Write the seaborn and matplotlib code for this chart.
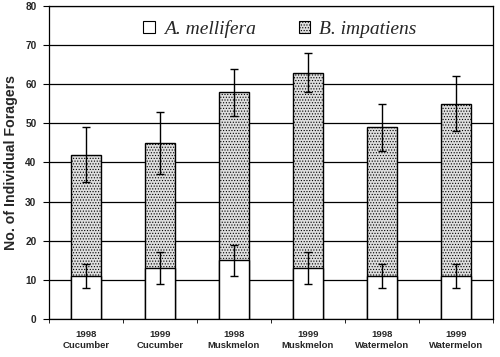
import numpy as np
import pandas as pd
import matplotlib
matplotlib.use('Agg')
import matplotlib.pyplot as plt
import seaborn as sns
from matplotlib.patches import Patch

# dados
anos = ['1998', '1999', '1998', '1999', '1998', '1999']
culturas = ['Cucumber', 'Cucumber', 'Muskmelon', 'Muskmelon', 'Watermelon', 'Watermelon']
mellifera = [11, 13, 15, 13, 11, 11]
mellifera_err = [3, 4, 4, 4, 3, 3]
impatiens = [31, 32, 43, 50, 38, 44]
total_err = [7, 8, 6, 5, 6, 7]

rotulos = [f'{a}\n{c}' for a, c in zip(anos, culturas)]
df = pd.DataFrame({
    'grupo': rotulos,
    'mellifera': mellifera,
    'total': np.array(mellifera) + np.array(impatiens),
})

sns.set_style('white')
plt.rcParams['font.family'] = ['Liberation Sans', 'DejaVu Sans']
plt.rcParams['hatch.color'] = '#8a8a8a'
plt.rcParams['hatch.linewidth'] = 0.5

fig = plt.figure(figsize=(5, 3.57), dpi=100)
ax = fig.add_axes([0.098, 0.107, 0.888, 0.876])

# barras empilhadas: total (B. impatiens por cima) e A. mellifera na base
sns.barplot(data=df, x='grupo', y='total', color='#dedede', saturation=1,
            width=0.41, edgecolor='black', linewidth=1.0, hatch='......', ax=ax, zorder=3)
sns.barplot(data=df, x='grupo', y='mellifera', color='white', saturation=1,
            width=0.41, edgecolor='black', linewidth=1.0, ax=ax, zorder=4)

pos = np.arange(len(rotulos))
ax.errorbar(pos, df['total'], yerr=total_err, fmt='none', ecolor='black',
            elinewidth=1.0, capsize=2.9, capthick=1.0, zorder=5)
ax.errorbar(pos, df['mellifera'], yerr=mellifera_err, fmt='none', ecolor='black',
            elinewidth=1.0, capsize=2.9, capthick=1.0, zorder=5)

ax.set_ylim(0, 80)
ax.set_xlim(-0.5, 5.5)
ax.set_yticks(range(0, 81, 10))
ax.yaxis.grid(True, color='black', linewidth=0.9)
ax.set_axisbelow(True)
for lado in ['left', 'right', 'top', 'bottom']:
    ax.spines[lado].set_visible(True)
    ax.spines[lado].set_color('black')
    ax.spines[lado].set_linewidth(0.9)

ax.set_xticks(np.arange(-0.5, 6, 1), minor=True)
ax.tick_params(axis='x', which='major', length=0, pad=8, labelsize=6.8)
ax.tick_params(axis='x', which='minor', length=3, direction='out', color='black', bottom=True)
ax.tick_params(axis='y', length=4, direction='out', color='black', left=True, labelsize=7.3, pad=5)
for t in ax.get_xticklabels() + ax.get_yticklabels():
    t.set_fontweight('bold')
    t.set_linespacing(1.25)

ax.set_xlabel('')
ax.set_ylabel('No. of Individual Foragers', fontsize=10.2, fontweight='bold', labelpad=5)

handles = [
    Patch(facecolor='white', edgecolor='black', linewidth=0.8, label='A. mellifera'),
    Patch(facecolor='#dedede', edgecolor='black', linewidth=0.8, hatch='......', label='B. impatiens'),
]
ax.legend(handles=handles, loc='center', bbox_to_anchor=(0.52, 0.926), ncol=2, frameon=False,
          prop={'family': 'Liberation Serif', 'style': 'italic', 'size': 14},
          handlelength=0.6, handleheight=0.6, handletextpad=0.45, columnspacing=2.2)

fig.savefig('out.png', dpi=100)
